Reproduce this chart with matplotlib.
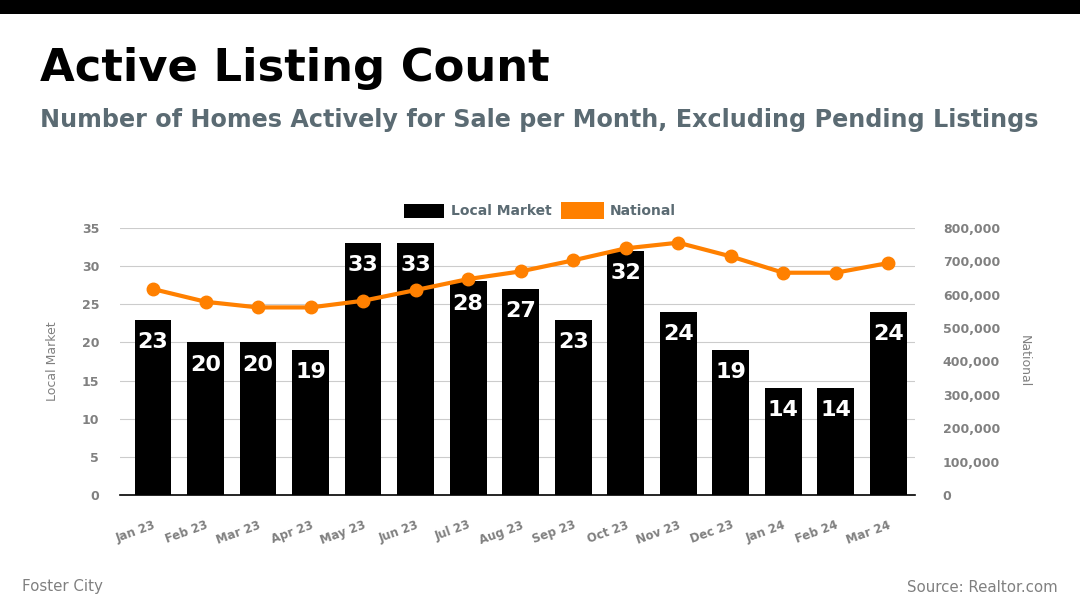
import matplotlib.pyplot as plt
import numpy as np
from matplotlib.patches import Rectangle
from matplotlib.ticker import FuncFormatter

months = ["Jan 23", "Feb 23", "Mar 23", "Apr 23", "May 23", "Jun 23", "Jul 23", "Aug 23",
          "Sep 23", "Oct 23", "Nov 23", "Dec 23", "Jan 24", "Feb 24", "Mar 24"]
local_market = [23, 20, 20, 19, 33, 33, 28, 27, 23, 32, 24, 19, 14, 14, 24]
national = [617000, 579000, 562000, 562000, 582000, 614000, 647000, 670000,
            703000, 739000, 756000, 715000, 666000, 666000, 695000]

ORANGE = "#ff8000"
GRAY = "#808080"
SLATE = "#5b6b73"

plt.rcParams["font.family"] = "DejaVu Sans"

fig = plt.figure(figsize=(10.8, 6.07), dpi=100)
W, H = 1080, 607

# top black band
fig.patches.append(Rectangle((0, 1 - 14 / H), 1, 14 / H, transform=fig.transFigure,
                             facecolor="black", edgecolor="none"))

fig.text(40 / W, 1 - 68 / H, "Active Listing Count", fontsize=32.3, fontweight="bold",
         va="center", ha="left", color="black")
fig.text(40 / W, 1 - 120 / H,
         "Number of Homes Actively for Sale per Month, Excluding Pending Listings",
         fontsize=17.2, fontweight="bold", va="center", ha="left", color=SLATE)

ax = fig.add_axes([120 / W, 1 - 495 / H, 795 / W, 267 / H])
x = np.arange(len(months))
ax.bar(x, local_market, width=0.7, color="black", zorder=2)
ax.set_xlim(-0.63, len(months) - 0.49)
ax.set_ylim(0, 35)
ax.set_yticks(range(0, 36, 5))
ax.grid(axis="y", color="#cccccc", linewidth=0.8, zorder=0)
ax.set_axisbelow(True)
for s in ["top", "right", "left"]:
    ax.spines[s].set_visible(False)
ax.spines["bottom"].set_color("black")
ax.spines["bottom"].set_linewidth(1.2)
ax.tick_params(axis="y", length=0, pad=15, labelsize=9, labelcolor=GRAY)
ax.tick_params(axis="x", length=0, pad=17, labelsize=8.5, labelcolor=GRAY)
for lbl in ax.get_yticklabels():
    lbl.set_fontweight("bold")
ax.set_xticks(x)
ax.set_xticklabels(months, rotation=20, ha="right", rotation_mode="anchor", fontweight="bold")
ax.set_ylabel("Local Market", fontsize=9, color=GRAY, labelpad=16)

for xi, v in zip(x, local_market):
    ax.annotate(str(v), (xi, v), xytext=(0, -16), textcoords="offset points",
                ha="center", va="center", color="white", fontsize=16, fontweight="bold",
                zorder=3)

ax2 = ax.twinx()
ax2.plot(x, national, color=ORANGE, linewidth=3, marker="o", markersize=9, zorder=5)
ax2.set_ylim(0, 800000)
ax2.set_yticks(range(0, 800001, 100000))
ax2.yaxis.set_major_formatter(FuncFormatter(lambda v, p: f"{int(v):,}"))
for s in ["top", "right", "left", "bottom"]:
    ax2.spines[s].set_visible(False)
ax2.tick_params(axis="y", length=0, pad=20, labelsize=9, labelcolor=GRAY)
for lbl in ax2.get_yticklabels():
    lbl.set_fontweight("bold")
ax2.set_ylabel("National", fontsize=9, color=GRAY, rotation=270, labelpad=22)

# legend
fig.patches.append(Rectangle((404 / W, 1 - 218 / H), 40 / W, 14 / H, transform=fig.transFigure,
                             facecolor="black", edgecolor="none"))
fig.text(451 / W, 1 - 211 / H, "Local Market", fontsize=10, fontweight="bold",
         color=SLATE, va="center", ha="left")
fig.patches.append(Rectangle((561 / W, 1 - 219 / H), 43 / W, 17 / H, transform=fig.transFigure,
                             facecolor=ORANGE, edgecolor="none"))
fig.text(610 / W, 1 - 211 / H, "National", fontsize=10, fontweight="bold",
         color=SLATE, va="center", ha="left")

fig.text(22 / W, 1 - 587 / H, "Foster City", fontsize=10.8, color=GRAY, va="center", ha="left")
fig.text(1058 / W, 1 - 587 / H, "Source: Realtor.com", fontsize=10.8, color=GRAY,
         va="center", ha="right")

fig.savefig("out.png", dpi=100)
